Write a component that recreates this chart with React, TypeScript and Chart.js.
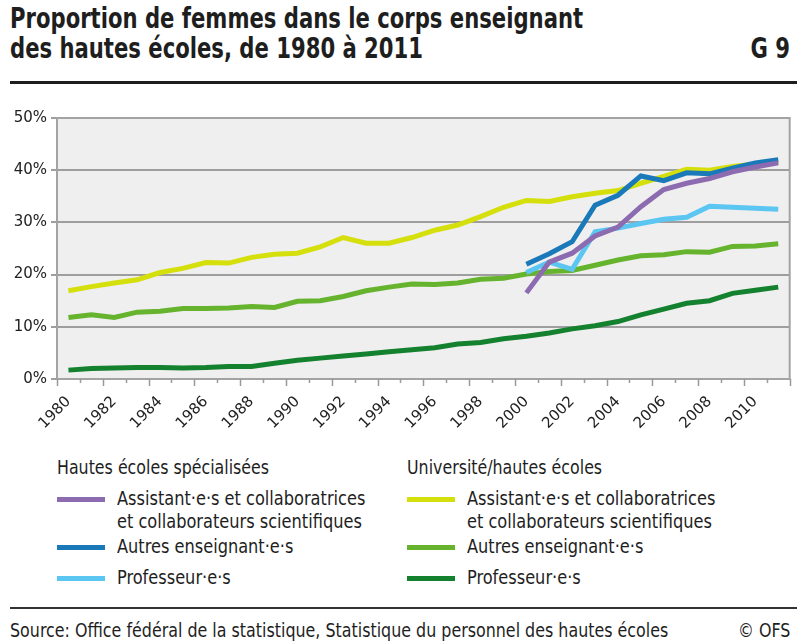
import React, { useEffect, useRef } from "react";
import { Chart, registerables } from "chart.js";

Chart.register(...registerables);

const years = [
  "1980", "1981", "1982", "1983", "1984", "1985", "1986", "1987", "1988", "1989",
  "1990", "1991", "1992", "1993", "1994", "1995", "1996", "1997", "1998", "1999",
  "2000", "2001", "2002", "2003", "2004", "2005", "2006", "2007", "2008", "2009",
  "2010", "2011",
];

// Université/hautes écoles
const uniAssistants = [
  16.9, 17.7, 18.4, 19.0, 20.4, 21.2, 22.3, 22.2, 23.3, 23.9,
  24.1, 25.3, 27.1, 26.0, 26.0, 27.1, 28.5, 29.5, 31.1, 32.9,
  34.2, 34.0, 34.9, 35.6, 36.1, 37.5, 38.8, 40.2, 40.0, 40.7,
  41.2, 41.6,
];
const uniAutres = [
  11.8, 12.3, 11.8, 12.8, 13.0, 13.5, 13.5, 13.6, 13.9, 13.7,
  14.9, 15.0, 15.8, 16.9, 17.6, 18.2, 18.1, 18.4, 19.1, 19.3,
  20.1, 20.6, 20.8, 21.8, 22.8, 23.6, 23.8, 24.4, 24.3, 25.4,
  25.5, 25.9,
];
const uniProfs = [
  1.7, 2.0, 2.1, 2.2, 2.2, 2.1, 2.2, 2.4, 2.4, 3.0,
  3.6, 4.0, 4.4, 4.8, 5.2, 5.6, 6.0, 6.7, 7.0, 7.7,
  8.2, 8.8, 9.6, 10.2, 11.0, 12.3, 13.4, 14.5, 15.0, 16.4,
  17.0, 17.6,
];

// Hautes écoles spécialisées (data from 2000)
const N = null;
const hesAssistants = [
  N, N, N, N, N, N, N, N, N, N,
  N, N, N, N, N, N, N, N, N, N,
  16.5, 22.4, 24.1, 27.4, 29.1, 33.0, 36.3, 37.5, 38.4, 39.7,
  40.6, 41.4,
];
const hesAutres = [
  N, N, N, N, N, N, N, N, N, N,
  N, N, N, N, N, N, N, N, N, N,
  22.0, 24.0, 26.3, 33.3, 35.2, 38.9, 38.0, 39.5, 39.3, 40.4,
  41.4, 42.0,
];
const hesProfs = [
  N, N, N, N, N, N, N, N, N, N,
  N, N, N, N, N, N, N, N, N, N,
  20.4, 22.4, 21.0, 28.2, 28.9, 29.8, 30.6, 31.0, 33.1, 32.9,
  32.7, 32.5,
];

const yTicks = [0, 10, 20, 30, 40, 50];

const groupHes = "Hautes écoles spécialisées";
const groupUni = "Université/hautes écoles";
const labelAssist = ["Assistant·e·s et collaboratrices", "et collaborateurs scientifiques"];
const labelAutres = ["Autres enseignant·e·s"];
const labelProfs = ["Professeur·e·s"];

const COLORS = {
  hesAssistants: "#8c6bb1",
  hesAutres: "#1a79b8",
  hesProfs: "#5cc6f2",
  uniAssistants: "#d5df0b",
  uniAutres: "#66b32e",
  uniProfs: "#14812f",
};

const NARROW = '"Liberation Sans Narrow", "DejaVu Sans Condensed", "Roboto Condensed", sans-serif';

const framePlugin = {
  id: "frame",
  beforeDraw(chart: any) {
    const { ctx, chartArea: a } = chart;
    ctx.save();
    ctx.fillStyle = "#efefef";
    ctx.fillRect(a.left, a.top, a.right - a.left, a.bottom - a.top);
    ctx.restore();
  },
  afterDraw(chart: any) {
    const { ctx, chartArea: a, scales } = chart;
    ctx.save();
    ctx.strokeStyle = "#a3a3a3";
    ctx.lineWidth = 2;
    ctx.strokeRect(a.left, a.top, a.right - a.left, a.bottom - a.top);
    const xs = scales.x;
    const n = xs.ticks.length;
    ctx.lineWidth = 1.5;
    ctx.strokeStyle = "#999";
    for (let i = 0; i <= n; i++) {
      const px = Math.round(xs.getPixelForValue(i - 0.5)) + 0.5;
      const len = i % 2 === 0 ? 7 : 4;
      ctx.beginPath();
      ctx.moveTo(px, a.bottom);
      ctx.lineTo(px, a.bottom + len);
      ctx.stroke();
    }
    ctx.restore();
  },
};

type Item = { lines: string[]; color: string };

const narrowText = (origin: string, k = 0.88): React.CSSProperties => ({
  transform: `scaleX(${k})`,
  transformOrigin: origin,
  whiteSpace: "nowrap",
});

function LegendColumn({ left, title, items }: { left: number; title: string; items: Item[] }) {
  const centers = [499, 547, 578];
  return (
    <>
      <div style={{ position: "absolute", left, top: 455, fontSize: 20, lineHeight: "24px", ...narrowText("left center") }}>{title}</div>
      {items.map((it, i) => (
        <React.Fragment key={i}>
          <div style={{ position: "absolute", left, top: centers[i] - 2.5, width: 48, height: 5, background: it.color }} />
          <div style={{ position: "absolute", left: left + 60, top: centers[i] - 12, fontSize: 20, lineHeight: "23px", ...narrowText("left top", 0.9) }}>
            {it.lines.map((l, j) => (
              <div key={j}>{l}</div>
            ))}
          </div>
        </React.Fragment>
      ))}
    </>
  );
}

export default function App() {
  const ref = useRef<HTMLCanvasElement>(null);

  useEffect(() => {
    const mk = (label: string, data: (number | null)[], color: string, order: number) => ({
      label,
      data,
      borderColor: color,
      backgroundColor: color,
      borderWidth: 5,
      pointRadius: 0,
      tension: 0,
      spanGaps: false,
      order,
    });
    const chart = new Chart(ref.current as HTMLCanvasElement, {
      type: "line",
      data: {
        labels: years,
        datasets: [
          mk(groupUni + " – " + labelProfs.join(" "), uniProfs, COLORS.uniProfs, 5),
          mk(groupUni + " – " + labelAutres.join(" "), uniAutres, COLORS.uniAutres, 4),
          mk(groupUni + " – " + labelAssist.join(" "), uniAssistants, COLORS.uniAssistants, 3),
          mk(groupHes + " – " + labelProfs.join(" "), hesProfs, COLORS.hesProfs, 2),
          mk(groupHes + " – " + labelAutres.join(" "), hesAutres, COLORS.hesAutres, 1),
          mk(groupHes + " – " + labelAssist.join(" "), hesAssistants, COLORS.hesAssistants, 0),
        ],
      },
      options: {
        animation: false,
        responsive: false,
        maintainAspectRatio: false,
        layout: { padding: { top: 18, right: 2, left: 0, bottom: 0 } },
        plugins: { legend: { display: false }, tooltip: { enabled: false } },
        scales: {
          x: {
            type: "category",
            offset: true,
            grid: { display: false, offset: true },
            border: { display: false },
            ticks: {
              autoSkip: false,
              minRotation: 45,
              maxRotation: 45,
              padding: 6,
              color: "#222",
              font: { family: "DejaVu Sans", size: 15 },
              callback: (_v: any, i: number) => (i % 2 === 0 ? years[i] : ""),
            },
            afterFit: (s: any) => {
              s.height = 66;
            },
          },
          y: {
            min: yTicks[0],
            max: yTicks[yTicks.length - 1],
            afterBuildTicks: (s: any) => {
              s.ticks = yTicks.map((v) => ({ value: v }));
            },
            grid: { color: "#9e9e9e", lineWidth: 2, drawTicks: true, tickLength: 6 },
            border: { display: false },
            ticks: {
              padding: 4,
              color: "#222",
              font: { family: "DejaVu Sans", size: 15 },
              callback: (v: any) => v + "%",
            },
            afterFit: (s: any) => {
              s.width = 57;
            },
          },
        },
      },
      plugins: [framePlugin],
    });
    return () => chart.destroy();
  }, []);

  const hesItems: Item[] = [
    { lines: labelAssist, color: COLORS.hesAssistants },
    { lines: labelAutres, color: COLORS.hesAutres },
    { lines: labelProfs, color: COLORS.hesProfs },
  ];
  const uniItems: Item[] = [
    { lines: labelAssist, color: COLORS.uniAssistants },
    { lines: labelAutres, color: COLORS.uniAutres },
    { lines: labelProfs, color: COLORS.uniProfs },
  ];

  return (
    <div
      style={{
        position: "absolute",
        left: 0,
        top: 0,
        width: 797,
        height: 642,
        background: "#fff",
        overflow: "hidden",
        fontFamily: NARROW,
        color: "#1e1e1e",
      }}
    >
      <div
        style={{
          position: "absolute",
          left: 10,
          top: 4,
          fontSize: 28,
          lineHeight: "30px",
          fontWeight: "bold",
          transform: "scaleX(0.84)",
          transformOrigin: "left top",
          whiteSpace: "nowrap",
        }}
      >
        <div>Proportion de femmes dans le corps enseignant</div>
        <div>des hautes écoles, de 1980 à 2011</div>
      </div>
      <div
        style={{
          position: "absolute",
          right: 7,
          top: 34,
          fontSize: 28,
          lineHeight: "30px",
          fontWeight: "bold",
          transform: "scaleX(0.84)",
          transformOrigin: "right top",
        }}
      >
        G 9
      </div>
      <div style={{ position: "absolute", left: 10, top: 81, width: 787, height: 3, background: "#1e1e1e" }} />
      <canvas ref={ref} width={797} height={345} style={{ position: "absolute", left: 0, top: 100, width: 797, height: 345 }} />
      <LegendColumn left={57} title={groupHes} items={hesItems} />
      <LegendColumn left={407} title={groupUni} items={uniItems} />
      <div style={{ position: "absolute", left: 10, top: 607, width: 787, height: 2, background: "#333" }} />
      <div style={{ position: "absolute", left: 10, top: 618, fontSize: 19, lineHeight: "24px", ...narrowText("left center", 0.93) }}>
        Source: Office fédéral de la statistique, Statistique du personnel des hautes écoles
      </div>
      <div style={{ position: "absolute", right: 7, top: 618, fontSize: 19, lineHeight: "24px", ...narrowText("right center", 0.93) }}>© OFS</div>
    </div>
  );
}
